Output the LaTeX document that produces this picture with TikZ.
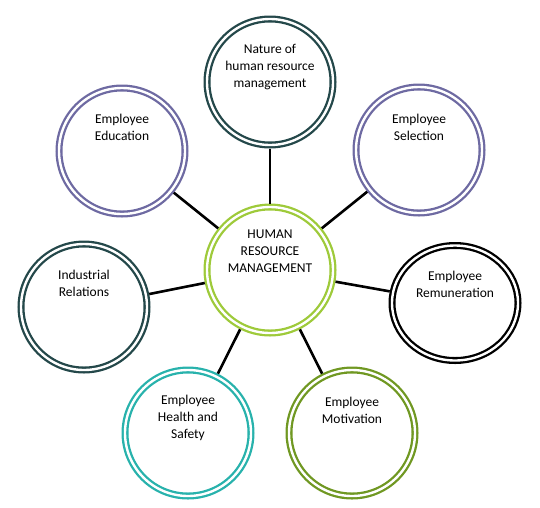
\documentclass[tikz,border=0pt]{standalone}
\usepackage{fontspec}
\setmainfont{Carlito}
\usetikzlibrary{positioning, shapes.geometric}

\definecolor{darkteal}{RGB}{36,72,74}
\definecolor{lavender}{RGB}{110,106,162}
\definecolor{limegreen}{RGB}{158,202,58}
\definecolor{aqua}{RGB}{40,178,172}
\definecolor{olive}{RGB}{112,152,34}

\begin{document}
\begin{tikzpicture}[x=1pt, y=-1pt,
    ring/.style={circle, draw=#1, double=white, double distance=2.4pt, line width=2.3pt, minimum size=126pt, outer sep=3.5pt},
    txt/.style={align=center, font=\fontsize{13.5}{17}\selectfont}]
    \useasboundingbox (0,0) rectangle (540,507);

    % Circles
    \node[ring=limegreen] (hrm) at (270,270) {};
    \node[ring=darkteal] (nature) at (270,82) {};
    \node[ring=lavender] (edu) at (122,151) {};
    \node[ring=lavender] (sel) at (419,150) {};
    \node[ring=darkteal] (rel) at (84,307) {};
    \node[ring=black, ellipse, minimum width=126pt, minimum height=115pt] (rem) at (455,303) {};
    \node[ring=aqua] (health) at (188,433) {};
    \node[ring=olive] (motiv) at (352,433) {};

    % Texts
    \node[txt] (hrmtext) at ([yshift=19pt]hrm.center) {HUMAN\\RESOURCE\\MANAGEMENT};
    \node[txt] (naturetext) at ([yshift=15pt]nature.center) {Nature of\\human resource\\management};
    \node[txt] (edutext) at ([yshift=24pt]edu.center) {Employee\\Education};
    \node[txt] (seltext) at ([yshift=23pt]sel.center) {Employee\\Selection};
    \node[txt] (reltext) at ([yshift=24pt]rel.center) {Industrial\\Relations};
    \node[txt] (remtext) at ([yshift=19pt]rem.center) {Employee\\Remuneration};
    \node[txt] (healthtext) at ([yshift=15pt]health.center) {Employee\\Health and\\Safety};
    \node[txt] (motivtext) at ([yshift=23pt]motiv.center) {Employee\\Motivation};

    % Links
    \path[draw, line width=2.6pt]
        (hrm) edge (nature)
              edge (edu)
              edge (sel)
              edge (rel)
              edge (rem)
              edge (health)
              edge (motiv);
\end{tikzpicture}
\end{document}
